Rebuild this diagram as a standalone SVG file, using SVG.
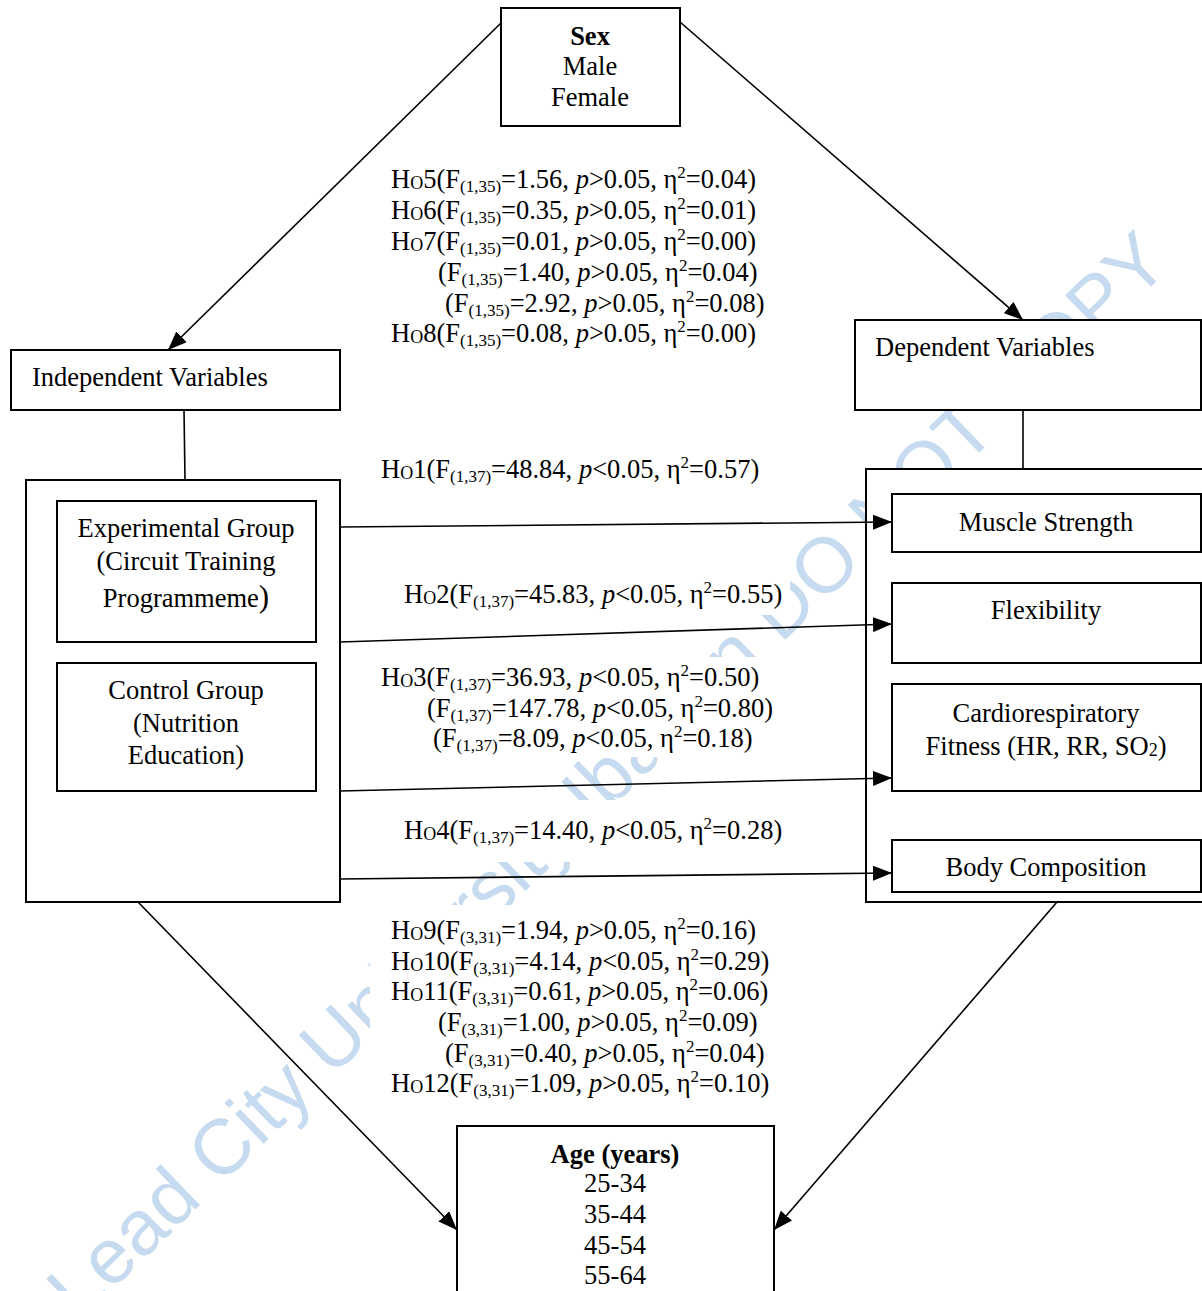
<svg xmlns="http://www.w3.org/2000/svg" width="1202" height="1291" viewBox="0 0 1202 1291">
<style>
text{font-family:"Liberation Serif","Times New Roman",serif;font-size:26.5px;fill:#000}
.c{text-anchor:middle}
.b{font-weight:bold}
.o{font-size:18px}
.sub{font-size:17px}
.sup{font-size:17px}
.i{font-style:italic}
.box{fill:#fff;stroke:#000;stroke-width:2}
.bg{fill:#fff;stroke:none}
.ln{stroke:#000;stroke-width:1.6;fill:none}
.wm{font-family:"Liberation Sans",Arial,sans-serif;font-size:78px;fill:#c6dbef}
</style>
<defs>
<marker id="ah" markerUnits="userSpaceOnUse" markerWidth="19" markerHeight="15" refX="19" refY="7.5" orient="auto">
<path d="M0,0 L19,7.5 L0,15 z" fill="#000"/>
</marker>
</defs>
<rect width="1202" height="1291" fill="#fff"/>
<g id="watermark">
<text class="wm" transform="translate(79,1322) rotate(-44)">Lead City University Ibadan DO NOT COPY</text>
</g>
<g id="text-backgrounds">
<rect class="bg" x="385" y="160" width="385" height="190"/>
<rect class="bg" x="375" y="450" width="390" height="40"/>
<rect class="bg" x="400" y="578" width="390" height="37"/>
<rect class="bg" x="375" y="657" width="405" height="100"/>
<rect class="bg" x="400" y="800" width="390" height="62"/>
<rect class="bg" x="370" y="905" width="420" height="215"/>
</g>
<g id="sex">
<rect class="box" x="501" y="8" width="179" height="118"/>
<text class="c b" x="590" y="45">Sex</text>
<text class="c" x="590" y="75">Male</text>
<text class="c" x="590" y="106">Female</text>
</g>
<g id="independent">
<rect class="box" x="11" y="350" width="329" height="60"/>
<text x="32" y="386">Independent Variables</text>
</g>
<g id="left-group">
<rect class="box" x="26" y="480" width="314" height="422"/>
</g>
<g id="experimental">
<rect class="box" x="57" y="501" width="259" height="141"/>
<text class="c" x="186" y="537">Experimental Group</text>
<text class="c" x="186" y="570">(Circuit Training</text>
<text class="c" x="186" y="607">Programmeme<tspan font-size="31">)</tspan></text>
</g>
<g id="control">
<rect class="box" x="57" y="663" width="259" height="128"/>
<text class="c" x="186" y="699">Control Group</text>
<text class="c" x="186" y="732">(Nutrition</text>
<text class="c" x="186" y="764">Education)</text>
</g>
<g id="dependent">
<rect class="box" x="855" y="320" width="346" height="90"/>
<text x="875" y="356">Dependent Variables</text>
</g>
<g id="right-group">
<rect class="box" x="866" y="469" width="346" height="433"/>
</g>
<g id="muscle">
<rect class="box" x="892" y="494" width="309" height="58"/>
<text class="c" x="1046" y="531">Muscle Strength</text>
</g>
<g id="flexibility">
<rect class="box" x="892" y="583" width="309" height="80"/>
<text class="c" x="1046" y="619">Flexibility</text>
</g>
<g id="cardio">
<rect class="box" x="892" y="684" width="309" height="107"/>
<text class="c" x="1046" y="722">Cardiorespiratory</text>
<text class="c" x="1046" y="755">Fitness (HR, RR, SO<tspan font-size="18" dy="1">2</tspan><tspan dy="-1">)</tspan></text>
</g>
<g id="body">
<rect class="box" x="892" y="840" width="309" height="52"/>
<text class="c" x="1046" y="876">Body Composition</text>
</g>
<g id="age">
<rect class="box" x="457" y="1126" width="317" height="175"/>
<text class="c b" x="615" y="1163">Age (years)</text>
<text class="c" x="615" y="1192">25-34</text>
<text class="c" x="615" y="1223">35-44</text>
<text class="c" x="615" y="1254">45-54</text>
<text class="c" x="615" y="1284">55-64</text>
</g>
<g id="connectors">
<line class="ln" x1="501" y1="23" x2="168" y2="350" marker-end="url(#ah)"/>
<line class="ln" x1="680" y1="22" x2="1023" y2="320" marker-end="url(#ah)"/>
<line class="ln" x1="184" y1="410" x2="185" y2="480"/>
<line class="ln" x1="1023" y1="410" x2="1023" y2="469"/>
<line class="ln" x1="340" y1="527" x2="892" y2="522" marker-end="url(#ah)"/>
<line class="ln" x1="340" y1="642" x2="892" y2="624" marker-end="url(#ah)"/>
<line class="ln" x1="340" y1="791" x2="892" y2="778" marker-end="url(#ah)"/>
<line class="ln" x1="340" y1="879" x2="892" y2="873" marker-end="url(#ah)"/>
<line class="ln" x1="138" y1="902" x2="457" y2="1230" marker-end="url(#ah)"/>
<line class="ln" x1="1057" y1="902" x2="774" y2="1230" marker-end="url(#ah)"/>
</g>
<g id="labels">
<text x="391" y="188">H<tspan class="o" dy="1">O</tspan><tspan dy="-1">5(F</tspan><tspan class="sub" dy="4">(1,35)</tspan><tspan dy="-4">=1.56, </tspan><tspan class="i">p</tspan>&gt;0.05, η<tspan class="sup" dy="-10">2</tspan><tspan dy="10">=0.04)</tspan></text>
<text x="391" y="219">H<tspan class="o" dy="1">O</tspan><tspan dy="-1">6(F</tspan><tspan class="sub" dy="4">(1,35)</tspan><tspan dy="-4">=0.35, </tspan><tspan class="i">p</tspan>&gt;0.05, η<tspan class="sup" dy="-10">2</tspan><tspan dy="10">=0.01)</tspan></text>
<text x="391" y="250">H<tspan class="o" dy="1">O</tspan><tspan dy="-1">7(F</tspan><tspan class="sub" dy="4">(1,35)</tspan><tspan dy="-4">=0.01, </tspan><tspan class="i">p</tspan>&gt;0.05, η<tspan class="sup" dy="-10">2</tspan><tspan dy="10">=0.00)</tspan></text>
<text x="438" y="281">(F<tspan class="sub" dy="4">(1,35)</tspan><tspan dy="-4">=1.40, </tspan><tspan class="i">p</tspan>&gt;0.05, η<tspan class="sup" dy="-10">2</tspan><tspan dy="10">=0.04)</tspan></text>
<text x="445" y="312">(F<tspan class="sub" dy="4">(1,35)</tspan><tspan dy="-4">=2.92, </tspan><tspan class="i">p</tspan>&gt;0.05, η<tspan class="sup" dy="-10">2</tspan><tspan dy="10">=0.08)</tspan></text>
<text x="391" y="342">H<tspan class="o" dy="1">O</tspan><tspan dy="-1">8(F</tspan><tspan class="sub" dy="4">(1,35)</tspan><tspan dy="-4">=0.08, </tspan><tspan class="i">p</tspan>&gt;0.05, η<tspan class="sup" dy="-10">2</tspan><tspan dy="10">=0.00)</tspan></text>

<text x="381" y="478">H<tspan class="o" dy="1">O</tspan><tspan dy="-1">1(F</tspan><tspan class="sub" dy="4">(1,37)</tspan><tspan dy="-4">=48.84, </tspan><tspan class="i">p</tspan>&lt;0.05, η<tspan class="sup" dy="-10">2</tspan><tspan dy="10">=0.57)</tspan></text>
<text x="404" y="603">H<tspan class="o" dy="1">O</tspan><tspan dy="-1">2(F</tspan><tspan class="sub" dy="4">(1,37)</tspan><tspan dy="-4">=45.83, </tspan><tspan class="i">p</tspan>&lt;0.05, η<tspan class="sup" dy="-10">2</tspan><tspan dy="10">=0.55)</tspan></text>
<text x="381" y="686">H<tspan class="o" dy="1">O</tspan><tspan dy="-1">3(F</tspan><tspan class="sub" dy="4">(1,37)</tspan><tspan dy="-4">=36.93, </tspan><tspan class="i">p</tspan>&lt;0.05, η<tspan class="sup" dy="-10">2</tspan><tspan dy="10">=0.50)</tspan></text>
<text x="427" y="717">(F<tspan class="sub" dy="4">(1,37)</tspan><tspan dy="-4">=147.78, </tspan><tspan class="i">p</tspan>&lt;0.05, η<tspan class="sup" dy="-10">2</tspan><tspan dy="10">=0.80)</tspan></text>
<text x="433" y="747">(F<tspan class="sub" dy="4">(1,37)</tspan><tspan dy="-4">=8.09, </tspan><tspan class="i">p</tspan>&lt;0.05, η<tspan class="sup" dy="-10">2</tspan><tspan dy="10">=0.18)</tspan></text>
<text x="404" y="839">H<tspan class="o" dy="1">O</tspan><tspan dy="-1">4(F</tspan><tspan class="sub" dy="4">(1,37)</tspan><tspan dy="-4">=14.40, </tspan><tspan class="i">p</tspan>&lt;0.05, η<tspan class="sup" dy="-10">2</tspan><tspan dy="10">=0.28)</tspan></text>

<text x="391" y="939">H<tspan class="o" dy="1">O</tspan><tspan dy="-1">9(F</tspan><tspan class="sub" dy="4">(3,31)</tspan><tspan dy="-4">=1.94, </tspan><tspan class="i">p</tspan>&gt;0.05, η<tspan class="sup" dy="-10">2</tspan><tspan dy="10">=0.16)</tspan></text>
<text x="391" y="970">H<tspan class="o" dy="1">O</tspan><tspan dy="-1">10(F</tspan><tspan class="sub" dy="4">(3,31)</tspan><tspan dy="-4">=4.14, </tspan><tspan class="i">p</tspan>&lt;0.05, η<tspan class="sup" dy="-10">2</tspan><tspan dy="10">=0.29)</tspan></text>
<text x="391" y="1000">H<tspan class="o" dy="1">O</tspan><tspan dy="-1">11(F</tspan><tspan class="sub" dy="4">(3,31)</tspan><tspan dy="-4">=0.61, </tspan><tspan class="i">p</tspan>&gt;0.05, η<tspan class="sup" dy="-10">2</tspan><tspan dy="10">=0.06)</tspan></text>
<text x="438" y="1031">(F<tspan class="sub" dy="4">(3,31)</tspan><tspan dy="-4">=1.00, </tspan><tspan class="i">p</tspan>&gt;0.05, η<tspan class="sup" dy="-10">2</tspan><tspan dy="10">=0.09)</tspan></text>
<text x="445" y="1062">(F<tspan class="sub" dy="4">(3,31)</tspan><tspan dy="-4">=0.40, </tspan><tspan class="i">p</tspan>&gt;0.05, η<tspan class="sup" dy="-10">2</tspan><tspan dy="10">=0.04)</tspan></text>
<text x="391" y="1092">H<tspan class="o" dy="1">O</tspan><tspan dy="-1">12(F</tspan><tspan class="sub" dy="4">(3,31)</tspan><tspan dy="-4">=1.09, </tspan><tspan class="i">p</tspan>&gt;0.05, η<tspan class="sup" dy="-10">2</tspan><tspan dy="10">=0.10)</tspan></text>
</g>
</svg>
